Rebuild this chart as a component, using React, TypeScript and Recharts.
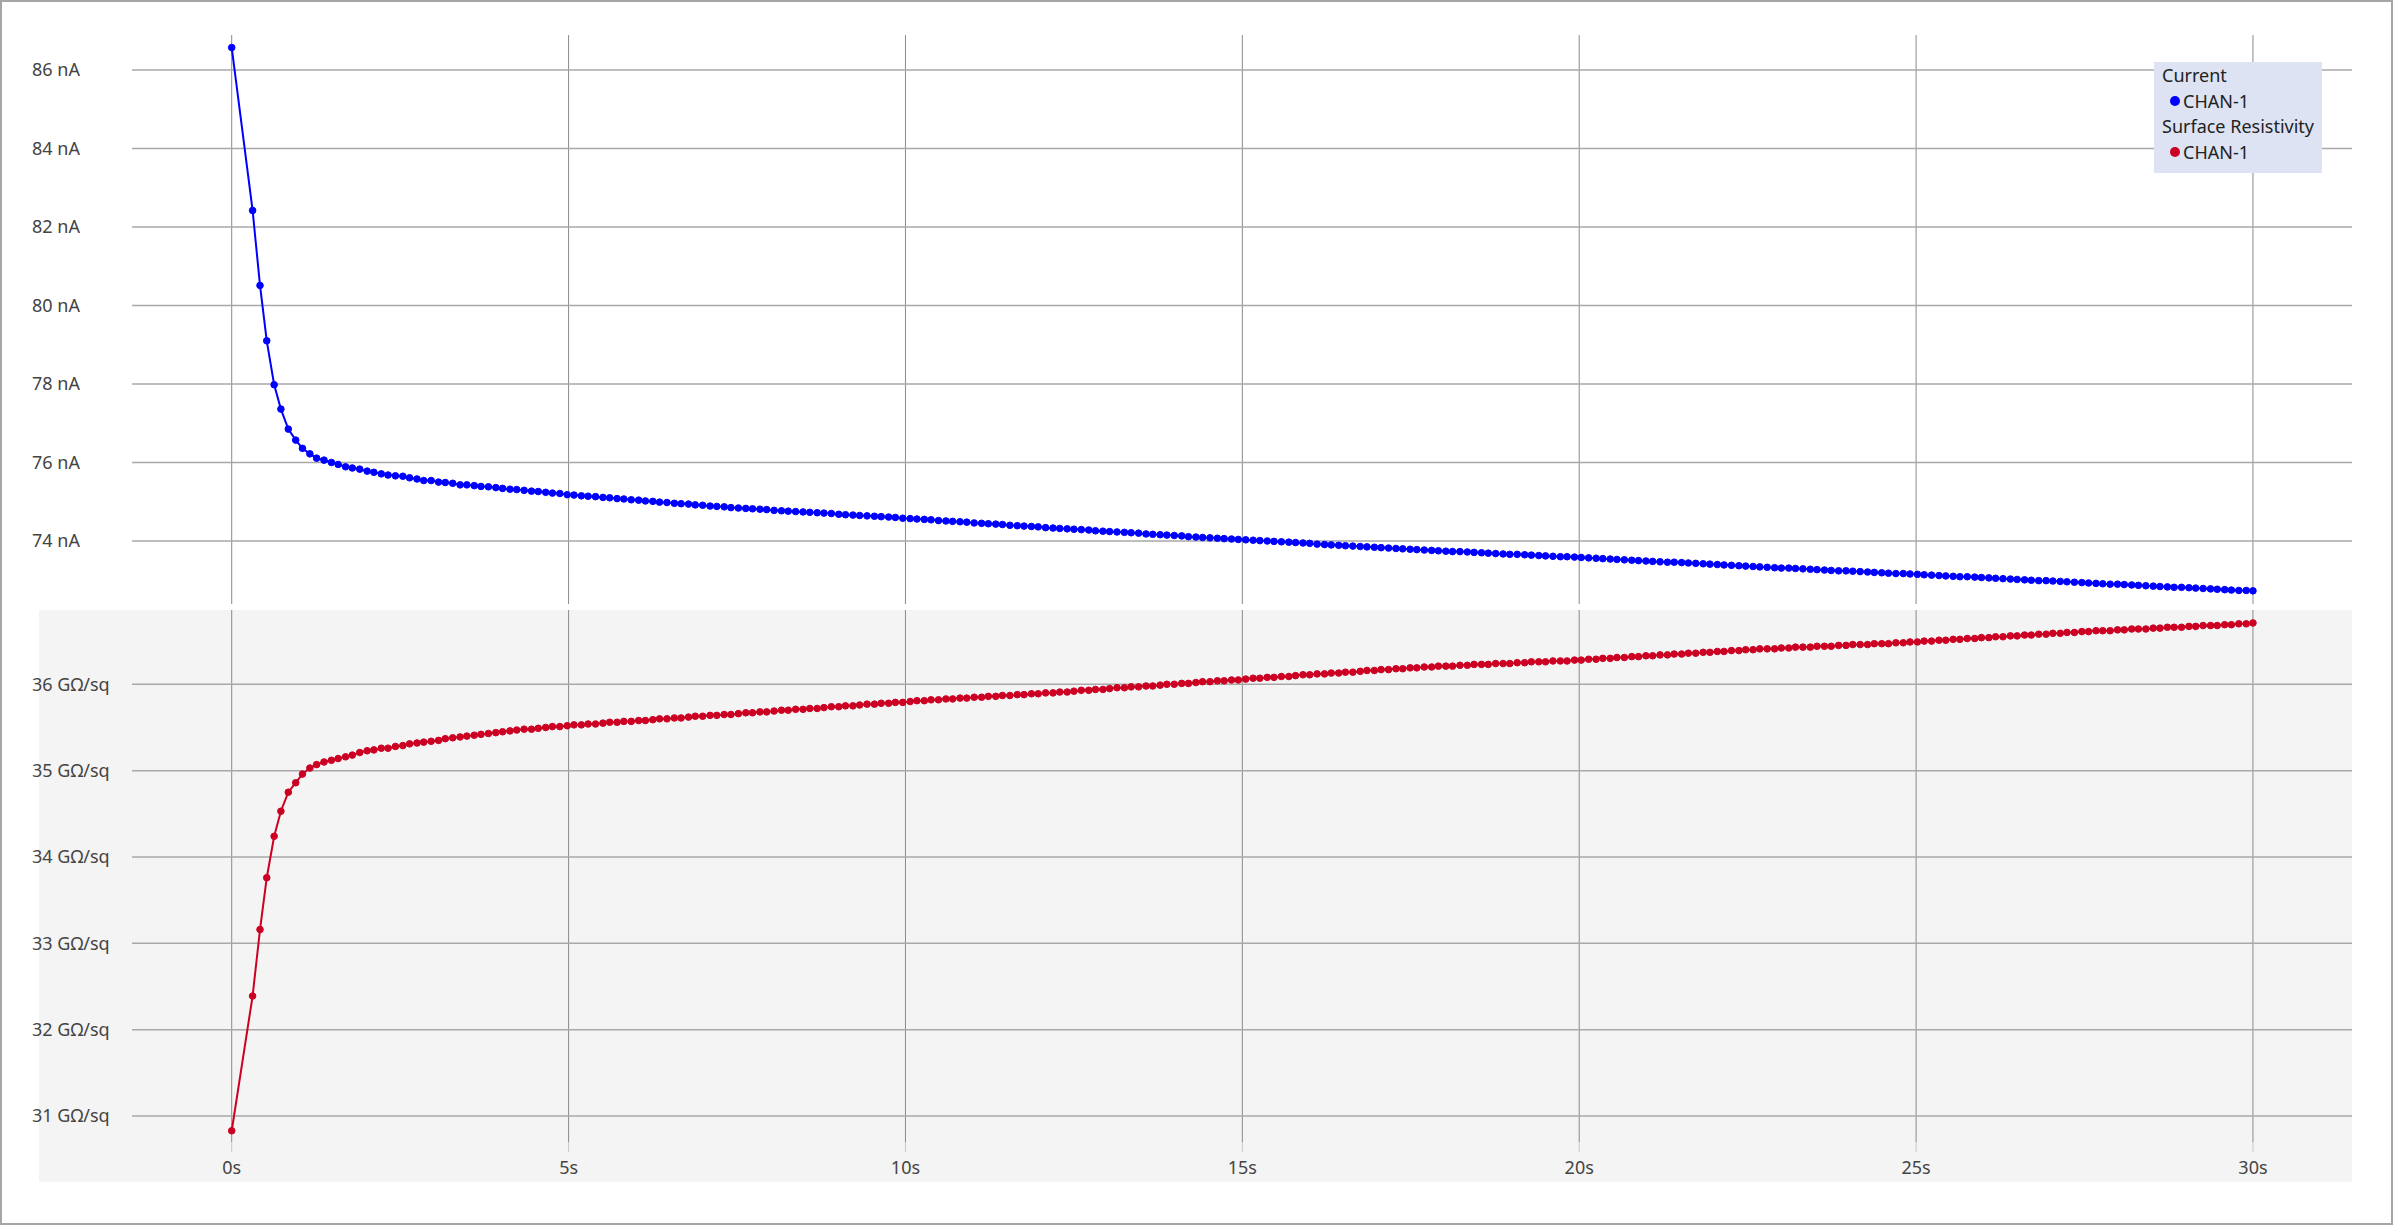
import { LineChart, Line, XAxis, YAxis, CartesianGrid } from "recharts";

// sample times in seconds (first sample at 0, then ~0.106s spacing)
const times = [
  0,
  0.31, 0.42, 0.52, 0.63, 0.73, 0.84, 0.95, 1.05, 1.16, 1.26,
  1.37, 1.48, 1.58, 1.69, 1.79, 1.9, 2.01, 2.11, 2.22, 2.32,
  2.43, 2.54, 2.64, 2.75, 2.85, 2.96, 3.07, 3.17, 3.28, 3.39,
  3.49, 3.6, 3.7, 3.81, 3.92, 4.02, 4.13, 4.23, 4.34, 4.45,
  4.55, 4.66, 4.76, 4.87, 4.98, 5.08, 5.19, 5.29, 5.4, 5.51,
  5.61, 5.72, 5.82, 5.93, 6.04, 6.14, 6.25, 6.35, 6.46, 6.57,
  6.67, 6.78, 6.88, 6.99, 7.1, 7.2, 7.31, 7.41, 7.52, 7.63,
  7.73, 7.84, 7.94, 8.05, 8.16, 8.26, 8.37, 8.48, 8.58, 8.69,
  8.79, 8.9, 9.01, 9.11, 9.22, 9.32, 9.43, 9.54, 9.64, 9.75,
  9.85, 9.96, 10.07, 10.17, 10.28, 10.38, 10.49, 10.6, 10.7, 10.81,
  10.91, 11.02, 11.13, 11.23, 11.34, 11.44, 11.55, 11.66, 11.76, 11.87,
  11.97, 12.08, 12.19, 12.29, 12.4, 12.5, 12.61, 12.72, 12.82, 12.93,
  13.03, 13.14, 13.25, 13.35, 13.46, 13.57, 13.67, 13.78, 13.88, 13.99,
  14.1, 14.2, 14.31, 14.41, 14.52, 14.63, 14.73, 14.84, 14.94, 15.05,
  15.16, 15.26, 15.37, 15.47, 15.58, 15.69, 15.79, 15.9, 16.0, 16.11,
  16.22, 16.32, 16.43, 16.53, 16.64, 16.75, 16.85, 16.96, 17.06, 17.17,
  17.28, 17.38, 17.49, 17.59, 17.7, 17.81, 17.91, 18.02, 18.12, 18.23,
  18.34, 18.44, 18.55, 18.65, 18.76, 18.87, 18.97, 19.08, 19.19, 19.29,
  19.4, 19.5, 19.61, 19.72, 19.82, 19.93, 20.03, 20.14, 20.25, 20.35,
  20.46, 20.56, 20.67, 20.78, 20.88, 20.99, 21.09, 21.2, 21.31, 21.41,
  21.52, 21.62, 21.73, 21.84, 21.94, 22.05, 22.15, 22.26, 22.37, 22.47,
  22.58, 22.68, 22.79, 22.9, 23.0, 23.11, 23.21, 23.32, 23.43, 23.53,
  23.64, 23.74, 23.85, 23.96, 24.06, 24.17, 24.28, 24.38, 24.49, 24.59,
  24.7, 24.81, 24.91, 25.02, 25.12, 25.23, 25.34, 25.44, 25.55, 25.65,
  25.76, 25.87, 25.97, 26.08, 26.18, 26.29, 26.4, 26.5, 26.61, 26.71,
  26.82, 26.93, 27.03, 27.14, 27.24, 27.35, 27.46, 27.56, 27.67, 27.77,
  27.88, 27.99, 28.09, 28.2, 28.3, 28.41, 28.52, 28.62, 28.73, 28.83,
  28.94, 29.05, 29.15, 29.26, 29.37, 29.47, 29.58, 29.68, 29.79, 29.9,
  30.0,
];

// Current, CHAN-1 (nA)
const currentNA = [
  86.57,
  82.42, 80.51, 79.1, 77.98, 77.36, 76.85, 76.57, 76.36, 76.22, 76.11,
  76.06, 76.0, 75.95, 75.89, 75.86, 75.83, 75.78, 75.75, 75.71, 75.68,
  75.66, 75.65, 75.61, 75.58, 75.54, 75.54, 75.5, 75.49, 75.47, 75.43,
  75.43, 75.41, 75.39, 75.38, 75.36, 75.34, 75.32, 75.31, 75.29, 75.27,
  75.26, 75.24, 75.22, 75.21, 75.18, 75.17, 75.15, 75.14, 75.13, 75.11,
  75.1, 75.08, 75.07, 75.05, 75.04, 75.02, 75.01, 74.99, 74.98, 74.96,
  74.95, 74.94, 74.92, 74.91, 74.89, 74.88, 74.87, 74.85, 74.84, 74.83,
  74.82, 74.81, 74.8, 74.78, 74.77, 74.76, 74.75, 74.74, 74.73, 74.72,
  74.71, 74.7, 74.68, 74.67, 74.66, 74.65, 74.64, 74.63, 74.62, 74.61,
  74.6, 74.58, 74.57, 74.56, 74.55, 74.54, 74.52, 74.51, 74.5, 74.49,
  74.48, 74.46, 74.45, 74.44, 74.43, 74.42, 74.4, 74.39, 74.38, 74.37,
  74.36, 74.34, 74.33, 74.32, 74.31, 74.3, 74.29, 74.28, 74.26, 74.25,
  74.24, 74.23, 74.22, 74.21, 74.2, 74.18, 74.17, 74.16, 74.15, 74.14,
  74.13, 74.11, 74.1, 74.09, 74.08, 74.07, 74.06, 74.05, 74.04, 74.03,
  74.02, 74.01, 74.0, 73.99, 73.98, 73.97, 73.96, 73.95, 73.94, 73.92,
  73.91, 73.9, 73.89, 73.88, 73.87, 73.86, 73.85, 73.84, 73.83, 73.82,
  73.81, 73.8, 73.79, 73.78, 73.77, 73.76, 73.75, 73.74, 73.73, 73.73,
  73.72, 73.71, 73.7, 73.69, 73.68, 73.67, 73.66, 73.66, 73.65, 73.64,
  73.63, 73.62, 73.61, 73.6, 73.6, 73.59, 73.58, 73.57, 73.56, 73.55,
  73.54, 73.53, 73.52, 73.51, 73.5, 73.49, 73.48, 73.47, 73.46, 73.46,
  73.45, 73.44, 73.43, 73.42, 73.41, 73.4, 73.39, 73.38, 73.37, 73.36,
  73.35, 73.34, 73.33, 73.32, 73.31, 73.31, 73.3, 73.29, 73.28, 73.27,
  73.26, 73.25, 73.24, 73.24, 73.23, 73.22, 73.21, 73.2, 73.19, 73.18,
  73.17, 73.17, 73.16, 73.15, 73.14, 73.13, 73.12, 73.11, 73.1, 73.09,
  73.09, 73.08, 73.07, 73.06, 73.05, 73.04, 73.03, 73.02, 73.01, 73.0,
  72.99, 72.99, 72.98, 72.97, 72.96, 72.95, 72.94, 72.93, 72.92, 72.91,
  72.9, 72.9, 72.89, 72.88, 72.87, 72.86, 72.85, 72.84, 72.83, 72.82,
  72.82, 72.81, 72.8, 72.79, 72.78, 72.77, 72.76, 72.75, 72.74, 72.74,
  72.73,
];

// Surface Resistivity, CHAN-1 (GΩ/sq)
const resistivityGOhm = [
  30.83,
  32.39, 33.16, 33.76, 34.24, 34.53, 34.75, 34.86, 34.96, 35.03, 35.07,
  35.1, 35.12, 35.14, 35.16, 35.18, 35.21, 35.23, 35.24, 35.26, 35.26,
  35.28, 35.29, 35.31, 35.32, 35.33, 35.34, 35.35, 35.37, 35.38, 35.39,
  35.4, 35.41, 35.42, 35.43, 35.44, 35.45, 35.46, 35.47, 35.48, 35.48,
  35.49, 35.5, 35.51, 35.51, 35.52, 35.53, 35.53, 35.54, 35.54, 35.55,
  35.56, 35.56, 35.57, 35.57, 35.58, 35.58, 35.59, 35.6, 35.6, 35.61,
  35.61, 35.62, 35.63, 35.63, 35.64, 35.64, 35.65, 35.65, 35.66, 35.67,
  35.67, 35.68, 35.68, 35.69, 35.7, 35.7, 35.71, 35.71, 35.72, 35.72,
  35.73, 35.74, 35.74, 35.75, 35.75, 35.76, 35.77, 35.77, 35.78, 35.78,
  35.79, 35.79, 35.8, 35.81, 35.81, 35.82, 35.82, 35.83, 35.83, 35.84,
  35.84, 35.85, 35.85, 35.86, 35.86, 35.87, 35.87, 35.88, 35.88, 35.89,
  35.89, 35.9, 35.9, 35.91, 35.91, 35.92, 35.93, 35.93, 35.94, 35.94,
  35.95, 35.96, 35.96, 35.97, 35.97, 35.98, 35.98, 35.99, 36.0, 36.0,
  36.01, 36.01, 36.02, 36.03, 36.03, 36.04, 36.04, 36.05, 36.05, 36.06,
  36.07, 36.07, 36.08, 36.08, 36.09, 36.09, 36.1, 36.11, 36.11, 36.12,
  36.12, 36.13, 36.13, 36.14, 36.14, 36.15, 36.16, 36.16, 36.17, 36.17,
  36.18, 36.18, 36.19, 36.19, 36.2, 36.2, 36.21, 36.21, 36.21, 36.22,
  36.22, 36.23, 36.23, 36.23, 36.24, 36.24, 36.24, 36.25, 36.25, 36.26,
  36.26, 36.26, 36.27, 36.27, 36.27, 36.28, 36.28, 36.29, 36.29, 36.3,
  36.3, 36.31, 36.31, 36.32, 36.32, 36.33, 36.33, 36.34, 36.34, 36.35,
  36.35, 36.36, 36.36, 36.37, 36.37, 36.38, 36.38, 36.39, 36.39, 36.4,
  36.4, 36.41, 36.41, 36.41, 36.42, 36.42, 36.43, 36.43, 36.43, 36.44,
  36.44, 36.44, 36.45, 36.45, 36.46, 36.46, 36.46, 36.47, 36.47, 36.47,
  36.48, 36.48, 36.49, 36.49, 36.5, 36.5, 36.51, 36.51, 36.52, 36.52,
  36.53, 36.53, 36.54, 36.54, 36.55, 36.55, 36.56, 36.56, 36.57, 36.57,
  36.58, 36.58, 36.59, 36.59, 36.6, 36.6, 36.61, 36.61, 36.62, 36.62,
  36.62, 36.63, 36.63, 36.64, 36.64, 36.64, 36.65, 36.65, 36.66, 36.66,
  36.66, 36.67, 36.67, 36.68, 36.68, 36.68, 36.69, 36.69, 36.7, 36.7,
  36.71,
];

const timeTicks = [0, 5, 10, 15, 20, 25, 30];
const currentTicks = [74, 76, 78, 80, 82, 84, 86];
const resistivityTicks = [31, 32, 33, 34, 35, 36];

const data = times.map((t, i) => ({
  t,
  current: currentNA[i],
  resistivity: resistivityGOhm[i],
}));

const FONT = '"Segoe UI", "Noto Sans", "Open Sans", sans-serif';
const BLUE = "#0000ff";
const RED = "#cc0022";
const X_DOMAIN: [number, number] = [-1.48, 31.47];

function LeftTick({ y, payload, unit }: any) {
  return (
    <text x={32} y={y} dy="0.35em" textAnchor="start" fontSize={18} fill="#444" fontFamily={FONT}>
      {`${payload.value} ${unit}`}
    </text>
  );
}

function LegendRow({ color, label }: { color: string; label: string }) {
  return (
    <div style={{ display: "flex", alignItems: "center", paddingLeft: 8 }}>
      <span
        style={{
          width: 10,
          height: 10,
          borderRadius: "50%",
          background: color,
          marginRight: 3,
          display: "inline-block",
        }}
      />
      {label}
    </div>
  );
}

export default function App() {
  return (
    <div style={{ position: "absolute", left: 0, top: 0, width: 2395, height: 1225, background: "#fff" }}>
      <div
        style={{
          position: "absolute",
          left: 0,
          top: 0,
          width: 2393,
          height: 1225,
          border: "2px solid #a6a6a6",
          boxSizing: "border-box",
        }}
      />
      {/* grey panel behind the resistivity plot */}
      <div style={{ position: "absolute", left: 39, top: 610, width: 2313, height: 572, background: "#f4f4f4" }} />

      <div style={{ position: "absolute", left: 0, top: 0 }}>
        <LineChart width={2395} height={610} data={data} margin={{ top: 35, right: 43, bottom: 6, left: 72 }}>
          <CartesianGrid horizontal={false} stroke="#8a8a8a" strokeWidth={1} syncWithTicks />
          <CartesianGrid vertical={false} stroke="#a8a8a8" strokeWidth={1.5} syncWithTicks />
          <XAxis dataKey="t" type="number" domain={X_DOMAIN} ticks={timeTicks} hide allowDataOverflow />
          <YAxis
            type="number"
            domain={[72.395, 86.89]}
            ticks={currentTicks}
            width={60}
            axisLine={false}
            tickLine={false}
            allowDataOverflow
            tick={<LeftTick unit="nA" />}
          />
          <Line
            type="linear"
            dataKey="current"
            stroke={BLUE}
            strokeWidth={2}
            dot={{ r: 3.3, fill: BLUE, stroke: BLUE, strokeWidth: 1 }}
            isAnimationActive={false}
          />
        </LineChart>
      </div>

      <div style={{ position: "absolute", left: 0, top: 610 }}>
        <LineChart width={2395} height={572} data={data} margin={{ top: 0, right: 43, bottom: 0, left: 72 }}>
          <CartesianGrid horizontal={false} stroke="#8a8a8a" strokeWidth={1} syncWithTicks />
          <CartesianGrid vertical={false} stroke="#a8a8a8" strokeWidth={1.5} syncWithTicks />
          <XAxis
            dataKey="t"
            type="number"
            domain={X_DOMAIN}
            ticks={timeTicks}
            height={40}
            axisLine={false}
            tickSize={10}
            tickMargin={9}
            tickLine={{ stroke: "#c8c8c8" }}
            tickFormatter={(v: number) => `${v}s`}
            tick={{ fontSize: 18, fill: "#444", fontFamily: FONT }}
            allowDataOverflow
          />
          <YAxis
            type="number"
            domain={[30.7, 36.86]}
            ticks={resistivityTicks}
            width={60}
            axisLine={false}
            tickLine={false}
            allowDataOverflow
            tick={<LeftTick unit="GΩ/sq" />}
          />
          <Line
            type="linear"
            dataKey="resistivity"
            stroke={RED}
            strokeWidth={2}
            dot={{ r: 3.3, fill: RED, stroke: RED, strokeWidth: 1 }}
            isAnimationActive={false}
          />
        </LineChart>
      </div>

      <div
        style={{
          position: "absolute",
          left: 2154,
          top: 62,
          width: 168,
          height: 111,
          background: "#dde3f3",
          boxSizing: "border-box",
          padding: "1px 0 0 8px",
          fontFamily: FONT,
          fontSize: 18,
          lineHeight: "25.5px",
          color: "#222",
          whiteSpace: "nowrap",
        }}
      >
        <div>Current</div>
        <LegendRow color={BLUE} label="CHAN-1" />
        <div>Surface Resistivity</div>
        <LegendRow color={RED} label="CHAN-1" />
      </div>
    </div>
  );
}
